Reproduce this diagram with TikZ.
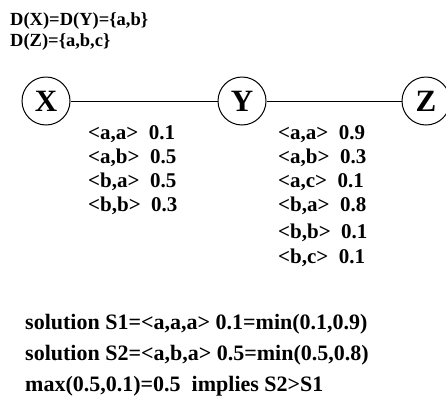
\documentclass[tikz,border=0pt]{standalone}
\usepackage{fontspec}
\setmainfont{Liberation Serif}
\usetikzlibrary{positioning}

\begin{document}
\begin{tikzpicture}[x=1pt, y=-1pt,
  var/.style={circle, draw, line width=1pt, minimum size=48pt, inner sep=0pt,
    font=\fontsize{31}{31}\selectfont\bfseries},
  dom/.style={anchor=base west, inner sep=0pt, font=\fontsize{18.5}{18.5}\selectfont\bfseries},
  pair/.style={anchor=base west, inner sep=0pt, font=\fontsize{21}{21}\selectfont\bfseries},
  sol/.style={anchor=base west, inner sep=0pt, font=\fontsize{22}{22}\selectfont\bfseries}]
  \useasboundingbox (0,0) rectangle (446,407);

  % Domains
  \node[dom] (dxy) at (10, 25) {D(X)=D(Y)=\{a,b\}};
  \node[dom] (dz)  at (10, 46) {D(Z)=\{a,b,c\}};

  % Constraint graph
  \node[var] (X) at (46, 101) {X};
  \node[var] (Y) at (242, 101) {Y};
  \node[var] (Z) at (426, 101) {Z};
  \draw[line width=1pt] (X) -- (Y);
  \draw[line width=1pt] (Y) -- (Z);

  % Preferences on X-Y
  \foreach \i/\y/\t in {1/139/{<a,a>\ \ 0.1}, 2/163/{<a,b>\ \ 0.5},
                        3/187/{<b,a>\ \ 0.5}, 4/211/{<b,b>\ \ 0.3}} {
    \node[pair] (xy\i) at (88, \y) {\t};
  }

  % Preferences on Y-Z
  \foreach \i/\y/\t in {1/139/{<a,a>\ \ 0.9}, 2/163/{<a,b>\ \ 0.3},
                        3/187/{<a,c>\ \ 0.1}, 4/211/{<b,a>\ \ 0.8},
                        5/238/{<b,b>\ \ 0.1}, 6/263/{<b,c>\ \ 0.1}} {
    \node[pair] (yz\i) at (278, \y) {\t};
  }

  % Solutions
  \node[sol] (s1) at (25, 329) {solution S1=<a,a,a> 0.1=min(0.1,0.9)};
  \node[sol] (s2) at (25, 360) {solution S2=<a,b,a> 0.5=min(0.5,0.8)};
  \node[sol] (cmp) at (25, 391) {max(0.5,0.1)=0.5\ \ implies S2>S1};
\end{tikzpicture}
\end{document}
